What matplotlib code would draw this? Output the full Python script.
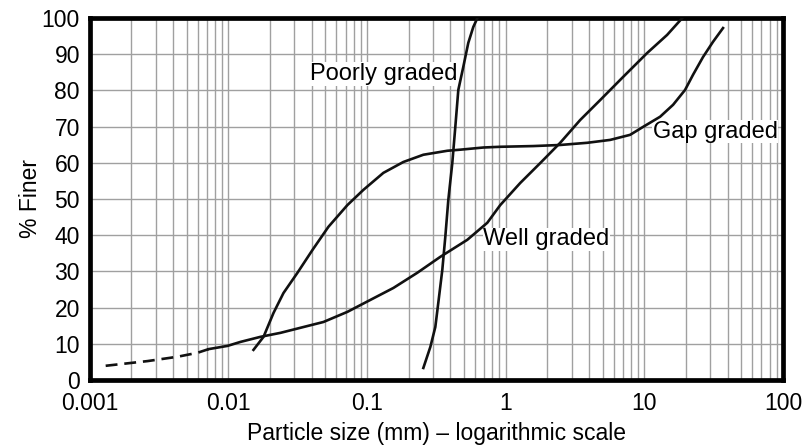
import matplotlib
matplotlib.use("Agg")
import matplotlib.pyplot as plt
from matplotlib.ticker import FixedLocator, LogLocator, NullFormatter

plt.rcParams["font.family"] = ["Liberation Sans", "DejaVu Sans"]

# grading curves (particle size in mm, % finer)
poorly_x = [0.2549, 0.2863, 0.311, 0.3268, 0.3493, 0.3671, 0.3859, 0.4123, 0.4335,
            0.4556, 0.4951, 0.5377, 0.5843, 0.6348]
poorly_y = [3.3, 9.1, 14.6, 21.3, 30.4, 39.5, 49.7, 59.9, 69.9,
            80.1, 86.5, 93.1, 97.5, 100.5]

well_dash_x = [0.001304, 0.002617, 0.004305, 0.006, 0.0072]
well_dash_y = [3.9, 5.2, 6.4, 7.5, 8.5]
well_x = [0.0072, 0.00987, 0.01224, 0.01706, 0.02377, 0.03313, 0.04852, 0.07224, 0.1058,
          0.155, 0.2307, 0.338, 0.5289, 0.737, 0.9145, 1.274, 1.776, 2.474, 3.448,
          4.805, 7.036, 10.48, 14.6, 19.03]
well_y = [8.5, 9.4, 10.5, 11.9, 13.0, 14.4, 16.0, 18.8, 22.1,
          25.4, 29.6, 34.0, 38.7, 43.4, 48.3, 54.4, 59.9, 65.5, 71.8,
          77.3, 83.7, 90.3, 95.3, 100.2]

gap_x = [0.01518, 0.01794, 0.02117, 0.02498, 0.03152, 0.04044, 0.05271, 0.07224, 0.09421,
         0.1313, 0.1829, 0.2549, 0.3796, 0.4709, 0.69, 0.9145, 1.581, 2.474, 3.87,
         5.672, 7.9, 9.8, 13.0, 16.13, 19.67, 22.47, 26.52, 31.3, 36.96]
gap_y = [8.3, 11.9, 18.5, 24.0, 29.6, 35.9, 42.3, 48.3, 52.5,
         57.2, 60.2, 62.2, 63.3, 63.6, 64.2, 64.4, 64.6, 64.9, 65.5,
         66.3, 67.7, 69.9, 72.7, 76.0, 80.1, 84.3, 89.2, 93.4, 97.2]

x_ticks = [0.001, 0.01, 0.1, 1, 10, 100]
x_tick_labels = ["0.001", "0.01", "0.1", "1", "10", "100"]
y_ticks = list(range(0, 101, 10))

fig = plt.figure(figsize=(8.08, 4.48), dpi=100)
ax = fig.add_axes([0.111, 0.152, 0.858, 0.808])

ax.set_xscale("log")
ax.set_xlim(0.001, 100)
ax.set_ylim(0, 100)

ax.xaxis.set_major_locator(FixedLocator(x_ticks))
ax.set_xticklabels(x_tick_labels)
ax.xaxis.set_minor_locator(LogLocator(base=10, subs=range(2, 10)))
ax.xaxis.set_minor_formatter(NullFormatter())
ax.set_yticks(y_ticks)

ax.grid(True, which="both", axis="x", color="#a0a0a0", linewidth=1.0)
ax.grid(True, which="major", axis="y", color="#a0a0a0", linewidth=1.0)
ax.set_axisbelow(True)

ax.tick_params(which="both", length=0, labelsize=16.5)
ax.tick_params(axis="x", pad=9)
ax.tick_params(axis="y", pad=7)
for spine in ax.spines.values():
    spine.set_linewidth(3.4)
    spine.set_color("black")

lw = 1.9
ax.plot(poorly_x, poorly_y, color="#111111", lw=lw, solid_joinstyle="round", zorder=3)
ax.plot(well_x, well_y, color="#111111", lw=lw, solid_joinstyle="round", zorder=3)
ax.plot(well_dash_x, well_dash_y, color="#111111", lw=lw, dashes=(4.5, 2.6), zorder=3)
ax.plot(gap_x, gap_y, color="#111111", lw=lw, solid_joinstyle="round", zorder=3)

box = dict(facecolor="white", edgecolor="none", pad=0.5)
ax.text(0.039, 84.5, "Poorly graded", fontsize=17, va="center", ha="left", bbox=box, zorder=2)
ax.text(11.5, 68.6, "Gap graded", fontsize=17, va="center", ha="left", bbox=box, zorder=2)
ax.text(0.69, 38.8, "Well graded", fontsize=17, va="center", ha="left", bbox=box, zorder=2)

ax.set_xlabel("Particle size (mm) – logarithmic scale", fontsize=16.5, labelpad=5)
ax.set_ylabel("% Finer", fontsize=16.5, labelpad=0)

fig.savefig("out.png", dpi=100)
